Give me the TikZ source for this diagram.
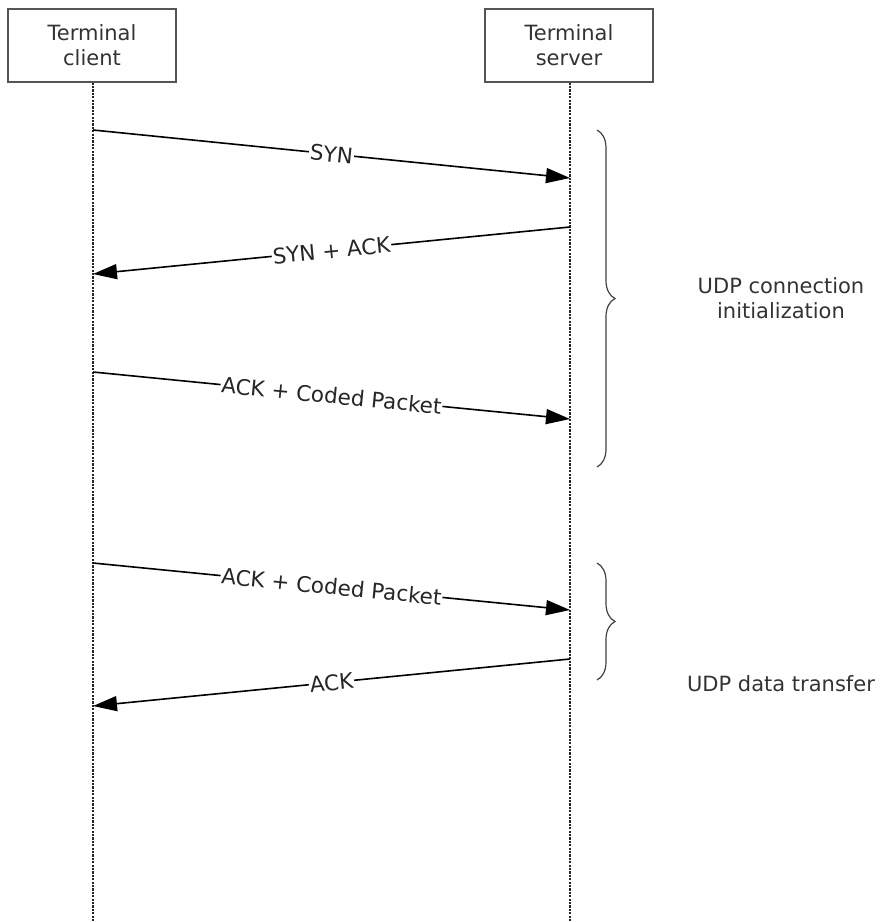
\documentclass[tikz,border=0pt]{standalone}
\usepackage{fontspec}
\setmainfont{DejaVu Sans}
\usetikzlibrary{arrows.meta,decorations.pathreplacing}
\definecolor{txt}{HTML}{333333}
\definecolor{boxline}{HTML}{555555}
\tikzset{
  actor/.style={draw=boxline, line width=1.3pt, fill=white, minimum width=168pt, minimum height=73pt, align=center, font=\fontsize{21}{25}\selectfont, text=txt, inner sep=0pt},
  lifeline/.style={draw=black!85, line width=1.6pt, dash pattern=on 2.2pt off 1.2pt},
  msg/.style={draw=black, line width=1.6pt, -{Triangle[length=24pt,width=15pt]}},
  msglabel/.style={fill=white, inner sep=1pt, sloped, font=\fontsize{21.5}{25}\selectfont, text=black!85},
  grpbrace/.style={draw=black!75, line width=1.2pt, decorate, decoration={brace, amplitude=18pt}},
  grplabel/.style={align=center, font=\fontsize{21}{25}\selectfont, text=txt}
}
\begin{document}
\begin{tikzpicture}[x=1pt,y=-1pt]
\useasboundingbox (0,0) rectangle (882,922);
% actors
\node[actor] (client) at (92,45.5) {Terminal\\client};
\node[actor] (server) at (569,45.5) {Terminal\\server};
% lifelines
\coordinate (cEnd) at (93,922);
\coordinate (sEnd) at (570,922);
\draw[lifeline] (client.south -| cEnd) -- (cEnd);
\draw[lifeline] (server.south -| sEnd) -- (sEnd);
% message end points
\coordinate (c1) at (93,130);  \coordinate (s1) at (570,178);
\coordinate (s2) at (570,227); \coordinate (c2) at (93,274);
\coordinate (c3) at (93,372);  \coordinate (s3) at (570,419);
\coordinate (c4) at (93,563);  \coordinate (s4) at (570,610);
\coordinate (s5) at (570,659); \coordinate (c5) at (93,706);
% messages
\draw[msg] (c1) -- node[msglabel] {SYN} (s1);
\draw[msg] (s2) -- node[msglabel] {SYN + ACK} (c2);
\draw[msg] (c3) -- node[msglabel] {ACK + Coded Packet} (s3);
\draw[msg] (c4) -- node[msglabel] {ACK + Coded Packet} (s4);
\draw[msg] (s5) -- node[msglabel] {ACK} (c5);
% braces
\coordinate (b1t) at (597,130); \coordinate (b1b) at (597,467);
\coordinate (b2t) at (597,563); \coordinate (b2b) at (597,680);
\draw[grpbrace] (b1t) -- (b1b);
\draw[grpbrace] (b2t) -- (b2b);
\node[grplabel] (g1) at (781,298) {UDP connection\\initialization};
\node[grplabel] (g2) at (781,684) {UDP data transfer};
\end{tikzpicture}
\end{document}
